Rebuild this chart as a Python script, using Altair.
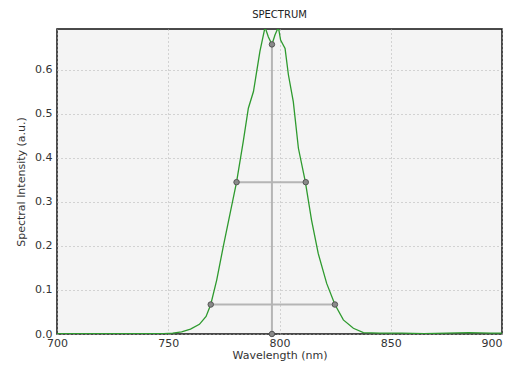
import altair as alt
import pandas as pd

# Spectrum curve
wavelength = [700, 710, 720, 730, 740, 748, 752, 756, 760, 764, 767, 769.1, 771.8,
              774.7, 777.8, 780.7, 783.7, 786.0, 788.3, 791.2, 793.5, 795.0, 796.6,
              798.0, 799.5, 800.5, 802.5, 804.0, 806.2, 808.5, 811.6, 814.4, 817.4,
              821.2, 824.9, 828.7, 833.2, 837.7, 845, 855, 865, 875, 885, 895, 900]
intensity = [0.001, 0.001, 0.001, 0.001, 0.001, 0.001, 0.002, 0.005, 0.011, 0.022,
             0.040, 0.067, 0.123, 0.198, 0.274, 0.345, 0.437, 0.513, 0.551, 0.642,
             0.697, 0.675, 0.658, 0.680, 0.697, 0.668, 0.649, 0.589, 0.528, 0.422,
             0.346, 0.259, 0.183, 0.115, 0.067, 0.032, 0.013, 0.003, 0.002, 0.002,
             0.001, 0.002, 0.003, 0.002, 0.002]

# Width markers: segments (x, x2, y, y2)
seg_x = [780.7, 769.1, 796.6]
seg_x2 = [811.8, 824.9, 796.6]
seg_y = [0.345, 0.067, 0.0]
seg_y2 = [0.345, 0.067, 0.658]

# Marker points
pt_x = [796.6, 796.6, 780.7, 811.8, 769.1, 824.9]
pt_y = [0.658, 0.0, 0.345, 0.345, 0.067, 0.067]

x_ticks = [700, 750, 800, 850, 900]
y_ticks = [0.0, 0.1, 0.2, 0.3, 0.4, 0.5, 0.6]

curve = pd.DataFrame({"wl": wavelength, "I": intensity})
segs = pd.DataFrame({"x": seg_x, "x2": seg_x2, "y": seg_y, "y2": seg_y2})
pts = pd.DataFrame({"x": pt_x, "y": pt_y})

xs = alt.Scale(domain=[700, 900], nice=False, zero=False)
ys = alt.Scale(domain=[0, 0.693], nice=False)

xaxis = alt.Axis(values=x_ticks, title="Wavelength (nm)", format="d", labelFlush=False,
                 grid=True, gridDash=[1, 3], gridColor="#b0b0b0", ticks=False, domain=False,
                 labelPadding=3, titlePadding=1,
                 labelAlign={"expr": "datum.value == 900 ? 'right' : 'center'"})
yaxis = alt.Axis(values=y_ticks, title="Spectral Intensity (a.u.)", format=".1f",
                 labelFlush=False, grid=True, gridDash=[1, 3], gridColor="#b0b0b0",
                 ticks=False, domain=False, labelPadding=5, titlePadding=8)

rules = alt.Chart(segs).mark_rule(color="#b5b5b5", strokeWidth=2).encode(
    x=alt.X("x:Q", scale=xs, axis=xaxis),
    x2="x2:Q",
    y=alt.Y("y:Q", scale=ys, axis=yaxis),
    y2="y2:Q",
)

line = alt.Chart(curve).mark_line(color="#2e9a2e", strokeWidth=1.3, clip=True).encode(
    x=alt.X("wl:Q", scale=xs),
    y=alt.Y("I:Q", scale=ys),
)

points = alt.Chart(pts).mark_point(filled=True, shape="circle", size=30, fill="#8a8a8a",
                                   stroke="#555555", strokeWidth=1, opacity=1).encode(
    x=alt.X("x:Q", scale=xs),
    y=alt.Y("y:Q", scale=ys),
)

chart = alt.layer(rules, line, points).properties(
    width=445,
    height=305,
    background="white",
    title=alt.TitleParams("SPECTRUM", fontSize=10, fontWeight="normal", color="#222222",
                          font="DejaVu Sans", offset=9, anchor="middle"),
    autosize=alt.AutoSizeParams(type="none"),
    padding={"left": 49, "top": 21, "right": 5, "bottom": 28},
).configure_view(
    stroke="#111111", strokeWidth=1.5, fill="#f4f4f4"
).configure_axis(
    labelFont="DejaVu Sans", titleFont="DejaVu Sans", labelFontSize=11, titleFontSize=11,
    labelColor="#333333", titleColor="#333333", titleFontWeight="normal"
)

chart.save("out.html", embed_options={"renderer": "svg", "actions": False})
